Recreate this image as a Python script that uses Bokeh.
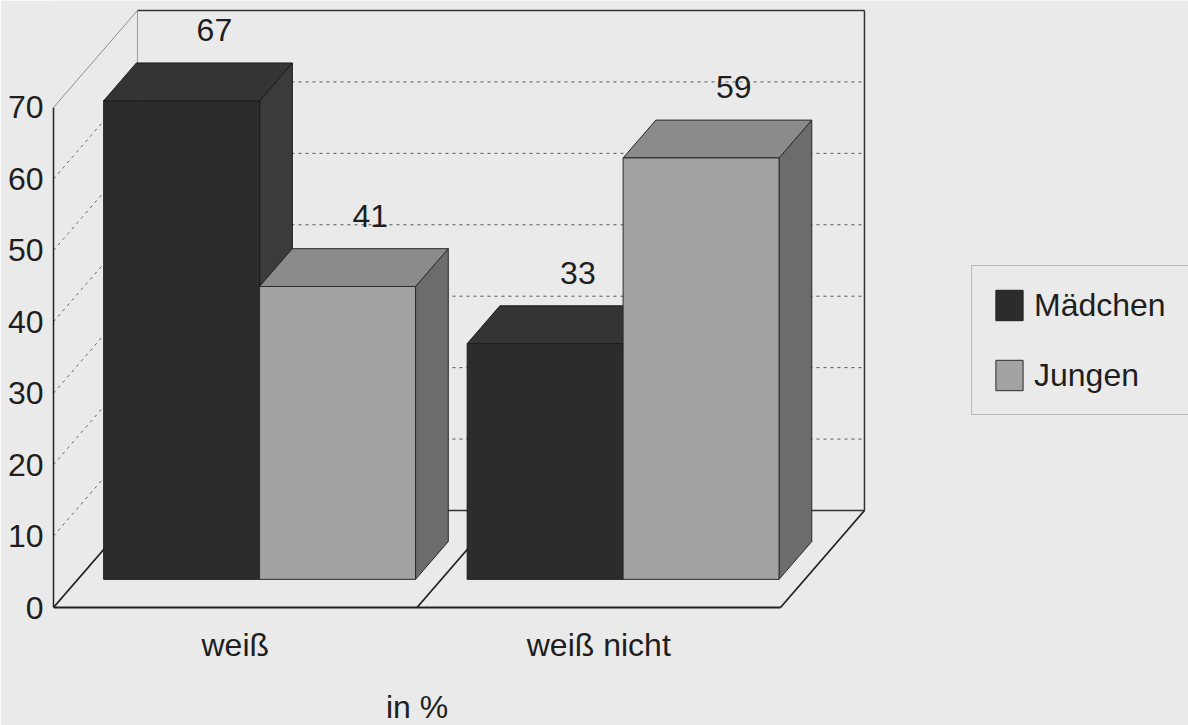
from bokeh.plotting import figure
from bokeh.models import Range1d, LinearAxis, FixedTicker, Legend, LegendItem
from bokeh.core.properties import value
from bokeh.embed import file_html
from bokeh.resources import INLINE

# ---- data ----
categories = ["weiß", "weiß nicht"]
series_names = ["Mädchen", "Jungen"]
maedchen = [67, 33]
jungen = [41, 59]
y_ticks = [0, 10, 20, 30, 40, 50, 60, 70]
unit_label = "in %"

# ---- style ----
FONT = "Liberation Sans"
FONT_SIZE = "32px"
BG = "#eaeaea"
INK = "#1e1e1e"
FACE_COLORS = {
    "Mädchen": dict(front="#2c2c2c", top="#343434", side="#3b3b3b", line="#1c1c1c"),
    "Jungen": dict(front="#a3a3a3", top="#8b8b8b", side="#6c6c6c", line="#2a2a2a"),
}

# oblique projection: moving one unit of depth shifts by DX categories / DY value units
DX = 0.231
DY = 13.58
D_FRONT, D_BACK = 0.29, 0.68   # depth of the bar fronts and backs inside the box
BAR_W = 0.429                  # width of one bar in category units
Y_MAX = y_ticks[-1]
N = len(categories)

PX_X = 363.5   # pixels per category
PX_Y = 7.143   # pixels per value unit


def proj(x, y, d):
    return x + d * DX, y + d * DY


p = figure(
    width=1188, height=725, title=None,
    x_range=Range1d(0, 1135 / PX_X),
    y_range=Range1d(-118 / PX_Y, 607 / PX_Y),
    x_axis_location=None, y_axis_location=None,
    min_border_left=53, min_border_right=0, min_border_top=0, min_border_bottom=0,
    toolbar_location=None, output_backend="svg",
)
p.background_fill_color = BG
p.border_fill_color = BG
p.outline_line_color = None
p.grid.grid_line_color = None

# ---- box: back wall and side wall gridlines ----
grid_vals = [v for v in y_ticks if 0 < v < Y_MAX]
bx0 = [proj(0, v, 1)[0] for v in grid_vals]
by0 = [proj(0, v, 1)[1] for v in grid_vals]
bx1 = [proj(N, v, 1)[0] for v in grid_vals]
p.segment(bx0, by0, bx1, by0, line_color="#555555", line_width=1, line_dash="3 4")
sx0 = [proj(0, v, 0)[0] for v in grid_vals]
sy0 = [proj(0, v, 0)[1] for v in grid_vals]
p.segment(sx0, sy0, bx0, by0, line_color="#666666", line_width=1, line_dash="3 4")

def edge(a, b, color, width, dash="solid"):
    p.line([a[0], b[0]], [a[1], b[1]], line_color=color, line_width=width, line_dash=dash)

# wall outlines
edge(proj(0, Y_MAX, 0), proj(0, Y_MAX, 1), "#8f8f8f", 1)
edge(proj(0, 0, 1), proj(0, Y_MAX, 1), "#9a9a9a", 1)
edge(proj(0, Y_MAX, 1), proj(N, Y_MAX, 1), "#333333", 1.5)
edge(proj(N, 0, 1), proj(N, Y_MAX, 1), "#333333", 1.5)
edge(proj(0, 0, 1), proj(N, 0, 1), "#333333", 1.5)

# floor outline and the divider between the categories
edge(proj(0, 0, 0), proj(N, 0, 0), "#222222", 2)
for k in range(N + 1):
    edge(proj(k, 0, 0), proj(k, 0, 1), "#222222", 1.8)

# ---- bars ----
front_renderers = {}
for j, (name, vals) in enumerate(zip(series_names, [maedchen, jungen])):
    c = FACE_COLORS[name]
    lefts = [i + 0.5 - BAR_W + j * BAR_W for i in range(N)]
    rights = [l + BAR_W for l in lefts]

    side_xs, side_ys, top_xs, top_ys = [], [], [], []
    for l, r, v in zip(lefts, rights, vals):
        side_xs.append([r + D_FRONT * DX, r + D_BACK * DX, r + D_BACK * DX, r + D_FRONT * DX])
        side_ys.append([D_FRONT * DY, D_BACK * DY, v + D_BACK * DY, v + D_FRONT * DY])
        top_xs.append([l + D_FRONT * DX, r + D_FRONT * DX, r + D_BACK * DX, l + D_BACK * DX])
        top_ys.append([v + D_FRONT * DY, v + D_FRONT * DY, v + D_BACK * DY, v + D_BACK * DY])

    p.patches(side_xs, side_ys, fill_color=c["side"], line_color=c["line"], line_width=1)
    p.patches(top_xs, top_ys, fill_color=c["top"], line_color=c["line"], line_width=1)
    front_renderers[name] = p.quad(
        left=[l + D_FRONT * DX for l in lefts],
        right=[r + D_FRONT * DX for r in rights],
        bottom=[D_FRONT * DY] * N,
        top=[v + D_FRONT * DY for v in vals],
        fill_color=c["front"], line_color=c["line"], line_width=1,
    )

    # value labels above the back edge of each bar's top face
    p.text(
        x=[(l + r) / 2 + D_BACK * DX for l, r in zip(lefts, rights)],
        y=[v + D_BACK * DY for v in vals],
        text=[str(v) for v in vals],
        text_align="center", text_baseline="middle", y_offset=-33,
        text_font=value(FONT), text_font_size=FONT_SIZE, text_color=INK,
    )

# ---- category labels and unit ----
p.text(
    x=[i + 0.5 for i in range(N)], y=[0] * N, text=categories,
    text_align="center", text_baseline="middle", y_offset=37,
    text_font=value(FONT), text_font_size=FONT_SIZE, text_color=INK,
)
p.text(
    x=[N / 2], y=[0], text=[unit_label],
    text_align="center", text_baseline="middle", y_offset=99,
    text_font=value(FONT), text_font_size=FONT_SIZE, text_color=INK,
)

# ---- value axis ----
yaxis = LinearAxis(
    ticker=FixedTicker(ticks=y_ticks), bounds=(0, Y_MAX),
    axis_line_color="#222222", axis_line_width=1.5,
    major_tick_in=0, major_tick_out=0, minor_tick_in=0, minor_tick_out=0,
    major_label_standoff=10,
    major_label_text_font=FONT, major_label_text_font_size=FONT_SIZE,
    major_label_text_color=INK,
)
p.add_layout(yaxis, "left")

# ---- legend ----
legend = Legend(
    items=[LegendItem(label=n, renderers=[front_renderers[n]]) for n in series_names],
    location=(918, 310),
    glyph_width=34, glyph_height=38, label_height=38, label_width=160,
    label_standoff=8, spacing=32, padding=20, margin=0,
    label_text_font=FONT, label_text_font_size=FONT_SIZE, label_text_color=INK,
    border_line_color="#8a8a8a", border_line_width=1,
    background_fill_color=BG, background_fill_alpha=1.0,
)
p.add_layout(legend, "center")

open("out.html", "w").write(file_html(p, INLINE))
